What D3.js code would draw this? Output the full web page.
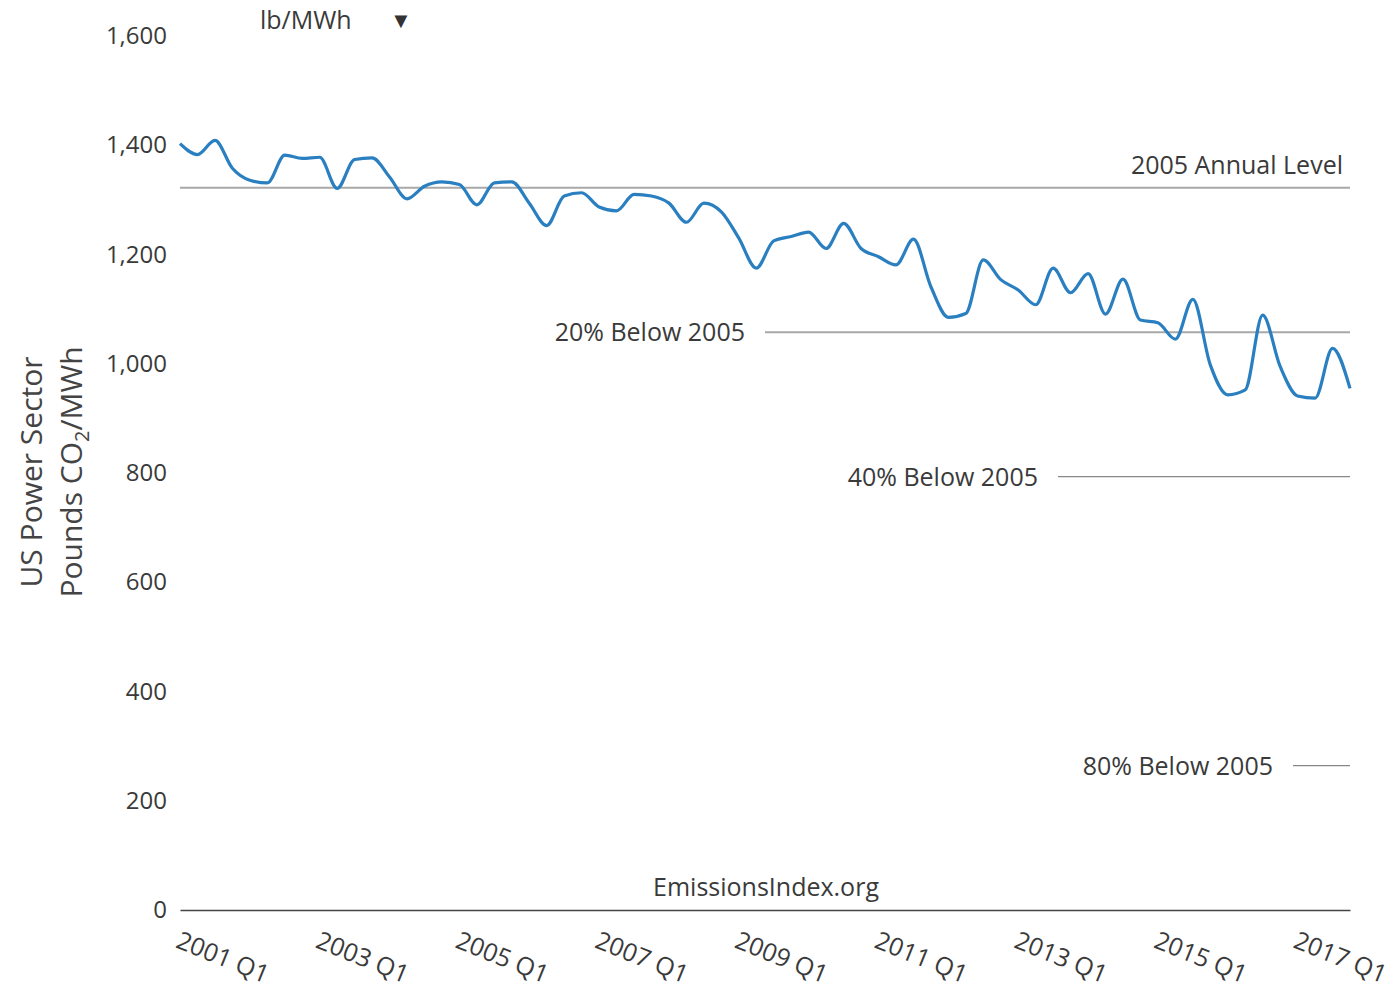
<!DOCTYPE html>
<html>
<head>
<meta charset="utf-8">
<script src="https://cdn.jsdelivr.net/npm/d3@7"></script>
<style>
  body { margin: 0; background: #fff; }
  text { font-family: "Open Sans", sans-serif; fill: #3a3a3a; }
</style>
</head>
<body>
<svg width="1393" height="990"></svg>
<script>
// quarterly values, 2001 Q1 .. 2017 Q4 (lb CO2 / MWh)
var years = d3.range(2001, 2018);
var quarters = [];
years.forEach(function(y) { [1, 2, 3, 4].forEach(function(q) { quarters.push(y + " Q" + q); }); });

var values = [
  1403, 1383, 1409, 1358, 1336, 1331, 1382, 1376,
  1378, 1321, 1374, 1377, 1342, 1302, 1325, 1333,
  1328, 1291, 1331, 1333, 1294, 1253, 1307, 1313,
  1287, 1280, 1310, 1307, 1294, 1259, 1294, 1278,
  1230, 1175, 1225, 1233, 1241, 1211, 1257, 1211,
  1196, 1181, 1228, 1141, 1085, 1092, 1190, 1154,
  1135, 1108, 1175, 1130, 1165, 1091, 1155, 1080,
  1075, 1045, 1118, 998, 943, 952, 1089, 995,
  941, 937, 1028, 955
];

var baseLevel = 1322; // 2005 annual level
var refLabels = ["2005 Annual Level", "20% Below 2005", "40% Below 2005", "80% Below 2005"];
var refFactors = [1, 0.8, 0.6, 0.2];

var yTicks = [0, 200, 400, 600, 800, 1000, 1200, 1400, 1600];
var xTickLabels = quarters.filter(function(d, i) { return i % 8 === 0; });

var svg = d3.select("svg"),
    mLeft = 180, mRight = 1350, mTop = 36, mBottom = 910;

var x = d3.scalePoint().domain(quarters).range([mLeft, mRight]);
var y = d3.scaleLinear().domain([0, 1600]).range([mBottom, mTop]);

// y axis
var yAxis = svg.append("g")
  .attr("transform", "translate(" + mLeft + ",0)")
  .call(d3.axisLeft(y).tickValues(yTicks).tickSize(0).tickPadding(13).tickFormat(d3.format(",")));
yAxis.select(".domain").remove();
yAxis.selectAll("text").style("font-size", "24px").style("fill", "#3a3a3a")
  .style("font-family", "Open Sans, sans-serif");

// x axis
var xAxis = svg.append("g")
  .attr("transform", "translate(0," + mBottom + ")")
  .call(d3.axisBottom(x).tickValues(xTickLabels).tickSize(0).tickPadding(0));
xAxis.select(".domain").attr("stroke", "#444").attr("stroke-width", 1.5);
xAxis.selectAll("text")
  .style("font-size", "25px").style("fill", "#3a3a3a").style("font-family", "Open Sans, sans-serif")
  .attr("text-anchor", "start")
  .attr("y", 0).attr("dy", 0)
  .attr("transform", "translate(-6,37) rotate(22)");

// reference lines
var refStart = [mLeft, 765, 1058, 1293];
refLabels.forEach(function(lbl, i) {
  var ly = y(baseLevel * refFactors[i]);
  svg.append("line")
    .attr("x1", refStart[i]).attr("x2", mRight)
    .attr("y1", ly).attr("y2", ly)
    .attr("stroke", i < 2 ? "#a8a8a8" : "#888")
    .attr("stroke-width", i < 2 ? 2 : 1.3);
  if (i === 0) {
    svg.append("text").attr("x", mRight - 7).attr("y", ly - 14)
      .attr("text-anchor", "end").style("font-size", "25px").text(lbl);
  } else {
    svg.append("text").attr("x", refStart[i] - 20).attr("y", ly + 9)
      .attr("text-anchor", "end").style("font-size", "25px").text(lbl);
  }
});

// data line
var line = d3.line()
  .x(function(d, i) { return x(quarters[i]); })
  .y(function(d) { return y(d); })
  .curve(d3.curveMonotoneX);

svg.append("path")
  .attr("d", line(values))
  .attr("fill", "none")
  .attr("stroke", "#2a7fc1")
  .attr("stroke-width", 3.2)
  .attr("stroke-linejoin", "round");

// axis title
var title = svg.append("text")
  .attr("transform", "translate(42,472) rotate(-90)")
  .attr("text-anchor", "middle")
  .style("font-size", "30px").style("fill", "#444");
title.append("tspan").attr("x", 0).attr("dy", 0).text("US Power Sector");
title.append("tspan").attr("x", 0).attr("dy", 40).text("Pounds CO");
title.append("tspan").attr("dy", 7).style("font-size", "20px").text("2");
title.append("tspan").attr("dy", -7).text("/MWh");

// unit selector and credit
svg.append("text").attr("x", 260).attr("y", 29).style("font-size", "25px").text("lb/MWh");
svg.append("text").attr("x", 401).attr("y", 28).attr("text-anchor", "middle")
  .style("font-size", "22px").style("fill", "#333").text("▼");
svg.append("text").attr("x", 766).attr("y", 896).attr("text-anchor", "middle")
  .style("font-size", "25px").text("EmissionsIndex.org");
</script>
</body>
</html>
